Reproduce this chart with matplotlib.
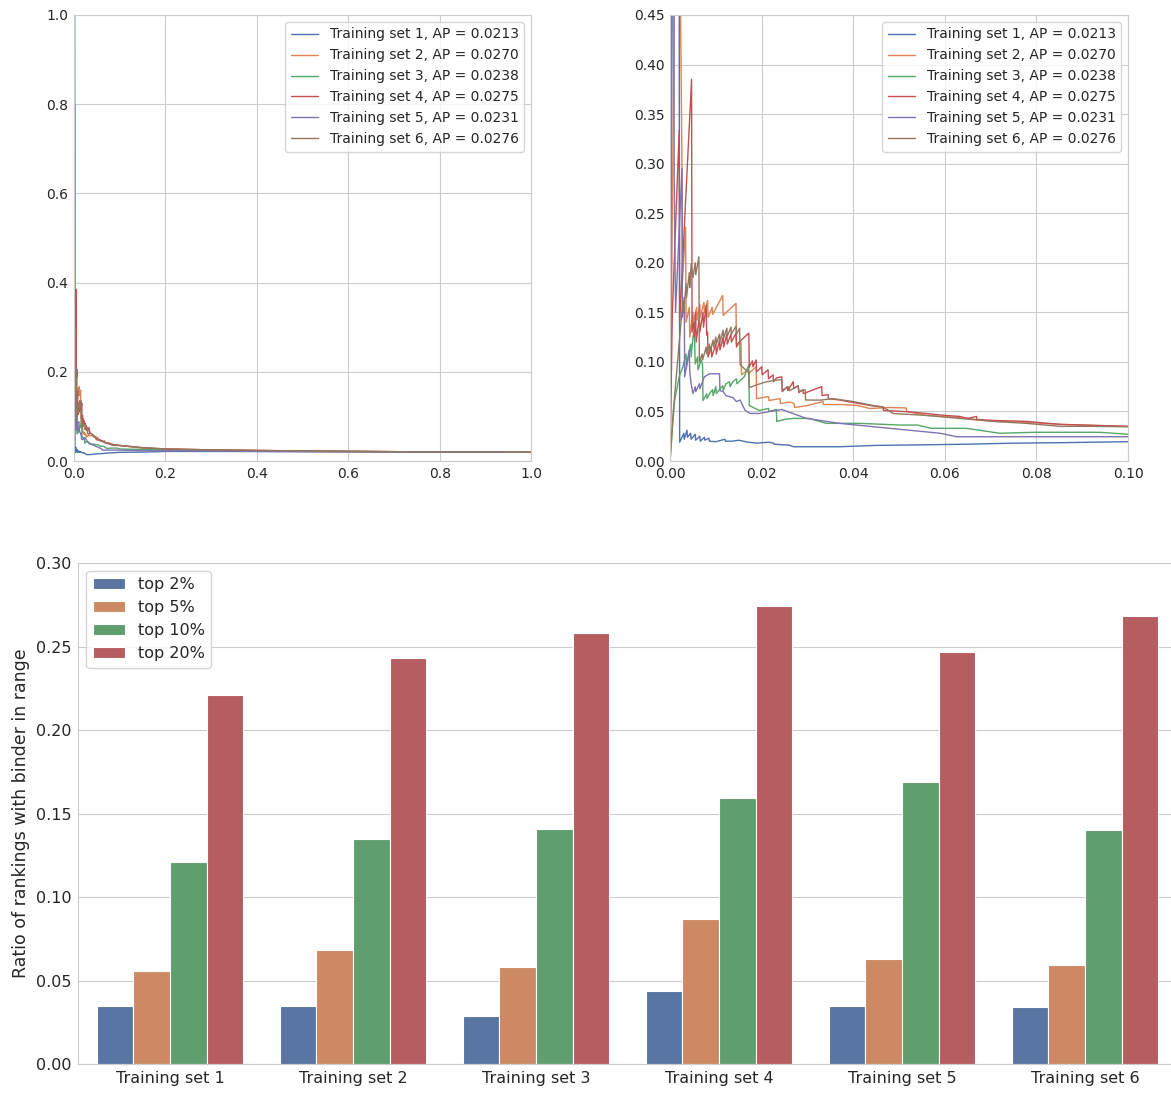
import matplotlib
matplotlib.use("Agg")
import matplotlib.pyplot as plt
import numpy as np
import seaborn as sns

# precision-recall points (recall, precision)
pr_set1 = [(0, 0), (0.0010, 1.0), (0.0020, 0.5), (0.0021, 0.019), (0.0030, 0.028), (0.0031, 0.022),
           (0.0037, 0.031), (0.0038, 0.024), (0.0045, 0.028), (0.0046, 0.022), (0.0055, 0.027),
           (0.0056, 0.021), (0.0065, 0.025), (0.0066, 0.020), (0.0075, 0.024), (0.0076, 0.021),
           (0.0085, 0.023), (0.0086, 0.020), (0.0100, 0.0195), (0.0120, 0.022), (0.0121, 0.020),
           (0.0135, 0.020), (0.0150, 0.021), (0.0170, 0.019), (0.0190, 0.018), (0.0215, 0.019),
           (0.0226, 0.018), (0.0227, 0.017), (0.0260, 0.016), (0.0270, 0.0144), (0.037, 0.0144),
           (0.0444, 0.0157), (0.059, 0.0166), (0.065, 0.017), (0.075, 0.018), (0.085, 0.0185),
           (0.1, 0.0195), (0.15, 0.020), (0.2, 0.0215), (0.3, 0.0215), (0.5, 0.021),
           (0.7, 0.0205), (1.0, 0.0195)]
pr_set2 = [(0, 0), (0.0004, 0.2), (0.0016, 0.8), (0.0026, 0.3), (0.0027, 0.18), (0.0034, 0.236),
           (0.0035, 0.14), (0.0042, 0.155), (0.0043, 0.125), (0.0050, 0.15), (0.0051, 0.14),
           (0.0058, 0.155), (0.0059, 0.142), (0.0065, 0.158), (0.0066, 0.145), (0.0074, 0.16),
           (0.0075, 0.15), (0.0082, 0.162), (0.0083, 0.145), (0.0092, 0.155), (0.0093, 0.148),
           (0.0115, 0.167), (0.0116, 0.147), (0.0144, 0.159), (0.0145, 0.118), (0.0155, 0.12),
           (0.0156, 0.087), (0.0170, 0.092), (0.0171, 0.088), (0.0188, 0.095), (0.0189, 0.063),
           (0.0215, 0.065), (0.0216, 0.061), (0.0240, 0.063), (0.0241, 0.058), (0.0262, 0.0595),
           (0.0271, 0.058), (0.0272, 0.054), (0.0300, 0.056), (0.0334, 0.060), (0.0335, 0.057),
           (0.0376, 0.057), (0.0410, 0.056), (0.0436, 0.053), (0.0480, 0.054), (0.0516, 0.0535),
           (0.0517, 0.050), (0.0560, 0.046), (0.0630, 0.044), (0.0705, 0.040), (0.0778, 0.039),
           (0.0851, 0.037), (0.0924, 0.036), (0.1, 0.035), (0.15, 0.029), (0.2, 0.027),
           (0.3, 0.025), (0.5, 0.0225), (0.7, 0.021), (1.0, 0.0195)]
pr_set3 = [(0, 0), (0.0006, 0.038), (0.0010, 0.061), (0.0020, 0.085), (0.0028, 0.095),
           (0.0035, 0.108), (0.0036, 0.095), (0.0045, 0.118), (0.0046, 0.105), (0.0050, 0.125),
           (0.0053, 0.132), (0.0055, 0.098), (0.0060, 0.105), (0.0061, 0.092), (0.0068, 0.102),
           (0.0071, 0.097), (0.0072, 0.061), (0.0080, 0.068), (0.0081, 0.063), (0.0086, 0.068),
           (0.0093, 0.072), (0.0094, 0.066), (0.0100, 0.075), (0.0101, 0.068), (0.0108, 0.072),
           (0.0115, 0.076), (0.0116, 0.071), (0.0122, 0.078), (0.0130, 0.080), (0.0131, 0.075),
           (0.0137, 0.080), (0.0145, 0.083), (0.0146, 0.078), (0.0162, 0.085), (0.0172, 0.097),
           (0.0173, 0.056), (0.0195, 0.051), (0.0215, 0.053), (0.0216, 0.050), (0.0232, 0.052),
           (0.0233, 0.040), (0.0250, 0.042), (0.0268, 0.043), (0.0304, 0.043), (0.0341, 0.038),
           (0.0414, 0.038), (0.0502, 0.0363), (0.0540, 0.0363), (0.0570, 0.033), (0.0647, 0.033),
           (0.0720, 0.028), (0.0795, 0.029), (0.0937, 0.029), (0.1, 0.027), (0.15, 0.026),
           (0.2, 0.025), (0.3, 0.024), (0.5, 0.022), (0.7, 0.021), (1.0, 0.0195)]
pr_set4 = [(0, 0), (0.0005, 0.15), (0.0020, 0.334), (0.0021, 0.14), (0.0047, 0.385), (0.0048, 0.13),
           (0.0052, 0.14), (0.0053, 0.125), (0.0056, 0.15), (0.0057, 0.12), (0.0064, 0.145),
           (0.0065, 0.13), (0.0072, 0.15), (0.0073, 0.135), (0.0079, 0.157), (0.0080, 0.127),
           (0.0082, 0.13), (0.0083, 0.105), (0.0090, 0.115), (0.0091, 0.105), (0.0100, 0.118),
           (0.0101, 0.108), (0.0108, 0.122), (0.0109, 0.112), (0.0116, 0.125), (0.0117, 0.115),
           (0.0124, 0.128), (0.0125, 0.118), (0.0133, 0.128), (0.0134, 0.120), (0.0144, 0.129),
           (0.0145, 0.115), (0.0151, 0.12), (0.0172, 0.129), (0.0173, 0.095), (0.0180, 0.101),
           (0.0181, 0.095), (0.0188, 0.102), (0.0189, 0.090), (0.0200, 0.095), (0.0201, 0.087),
           (0.0214, 0.092), (0.0215, 0.083), (0.0225, 0.087), (0.0226, 0.080), (0.0233, 0.084),
           (0.0244, 0.085), (0.0245, 0.070), (0.0256, 0.075), (0.0257, 0.071), (0.0269, 0.080),
           (0.0270, 0.073), (0.0280, 0.076), (0.0281, 0.069), (0.0290, 0.072), (0.0291, 0.068),
           (0.0331, 0.075), (0.0332, 0.066), (0.0345, 0.067), (0.0346, 0.063), (0.0370, 0.0615),
           (0.0400, 0.059), (0.0444, 0.0555), (0.0465, 0.0545), (0.0466, 0.051), (0.0517, 0.0498),
           (0.0560, 0.048), (0.0590, 0.0464), (0.0632, 0.045), (0.0650, 0.043), (0.0669, 0.045),
           (0.0670, 0.042), (0.0705, 0.041), (0.0778, 0.040), (0.0851, 0.037), (0.0924, 0.036),
           (0.1, 0.035), (0.15, 0.030), (0.2, 0.027), (0.3, 0.025), (0.5, 0.0225), (0.7, 0.021),
           (1.0, 0.0195)]
pr_set5 = [(0, 0), (0.0007, 1.0), (0.0009, 0.29), (0.0012, 0.15), (0.0026, 0.295), (0.0027, 0.145),
           (0.0031, 0.165), (0.0032, 0.085), (0.0042, 0.112), (0.0043, 0.09), (0.0046, 0.078),
           (0.0050, 0.068), (0.0055, 0.075), (0.0056, 0.070), (0.0064, 0.078), (0.0065, 0.073),
           (0.0075, 0.085), (0.0086, 0.088), (0.0108, 0.088), (0.0109, 0.071), (0.0116, 0.070),
           (0.0122, 0.066), (0.0137, 0.064), (0.0145, 0.060), (0.0153, 0.0615), (0.0164, 0.051),
           (0.0175, 0.048), (0.0195, 0.048), (0.0218, 0.050), (0.0244, 0.052), (0.0298, 0.043),
           (0.0370, 0.038), (0.0444, 0.0346), (0.0517, 0.0313), (0.0590, 0.028), (0.0626, 0.0245),
           (0.0705, 0.0245), (0.0778, 0.0245), (0.1, 0.0245), (0.15, 0.023), (0.2, 0.023),
           (0.3, 0.0225), (0.5, 0.021), (0.7, 0.0205), (1.0, 0.0195)]
pr_set6 = [(0, 0), (0.0007, 0.05), (0.0028, 0.162), (0.0030, 0.15), (0.0035, 0.179), (0.0036, 0.165),
           (0.0042, 0.19), (0.0043, 0.175), (0.0046, 0.199), (0.0050, 0.185), (0.0055, 0.20),
           (0.0056, 0.188), (0.0063, 0.206), (0.0064, 0.100), (0.0070, 0.108), (0.0071, 0.102),
           (0.0079, 0.115), (0.0080, 0.108), (0.0086, 0.118), (0.0087, 0.110), (0.0094, 0.122),
           (0.0095, 0.115), (0.0100, 0.125), (0.0101, 0.118), (0.0108, 0.128), (0.0109, 0.12),
           (0.0116, 0.132), (0.0117, 0.124), (0.0124, 0.134), (0.0125, 0.126), (0.0133, 0.135),
           (0.0134, 0.128), (0.0144, 0.136), (0.0145, 0.128), (0.0152, 0.134), (0.0153, 0.097),
           (0.0165, 0.092), (0.0172, 0.090), (0.0173, 0.074), (0.0190, 0.077), (0.0211, 0.080),
           (0.0233, 0.0817), (0.0244, 0.082), (0.0245, 0.0716), (0.0260, 0.075), (0.0261, 0.071),
           (0.0280, 0.076), (0.0281, 0.070), (0.0295, 0.072), (0.0296, 0.0615), (0.0330, 0.0615),
           (0.0355, 0.063), (0.0400, 0.060), (0.0444, 0.056), (0.0465, 0.0545), (0.0487, 0.048),
           (0.0560, 0.046), (0.0632, 0.043), (0.0705, 0.040), (0.0778, 0.038), (0.0851, 0.035),
           (0.0924, 0.035), (0.1, 0.0345), (0.15, 0.030), (0.2, 0.027), (0.3, 0.025),
           (0.5, 0.0225), (0.7, 0.021), (1.0, 0.0195)]

pr_curves = [pr_set1, pr_set2, pr_set3, pr_set4, pr_set5, pr_set6]
ap_values = [0.0213, 0.0270, 0.0238, 0.0275, 0.0231, 0.0276]

# bar chart
training_sets = ["Training set 1", "Training set 2", "Training set 3",
                 "Training set 4", "Training set 5", "Training set 6"]
range_labels = ["top 2%", "top 5%", "top 10%", "top 20%"]
top2 = [0.035, 0.035, 0.029, 0.044, 0.035, 0.034]
top5 = [0.056, 0.068, 0.058, 0.087, 0.063, 0.059]
top10 = [0.121, 0.135, 0.141, 0.159, 0.169, 0.140]
top20 = [0.221, 0.243, 0.258, 0.274, 0.247, 0.268]

sns.set_style("whitegrid")
plt.rcParams["font.family"] = ["DejaVu Sans"]

line_colors = sns.color_palette("deep", 6)
bar_colors = sns.color_palette("deep", 4, desat=0.75)

fig = plt.figure(figsize=(11.71, 10.93), dpi=100)
ax_full = fig.add_axes([0.0632, 0.5782, 0.3903, 0.4081])
ax_zoom = fig.add_axes([0.5722, 0.5782, 0.3911, 0.4081])
ax_bar = fig.add_axes([0.0670, 0.0265, 0.9377, 0.4584])

for ax in (ax_full, ax_zoom):
    for i, pts in enumerate(pr_curves):
        r = [p[0] for p in pts]
        p = [p[1] for p in pts]
        ax.plot(r, p, color=line_colors[i], lw=1.0,
                label=f"Training set {i + 1}, AP = {ap_values[i]:.4f}")
    ax.tick_params(labelsize=10, length=0, pad=4)
    ax.legend(loc="upper right", fontsize=10, frameon=True, handlelength=2.0)
    for s in ax.spines.values():
        s.set_color("#cccccc")

ax_full.set_xlim(0, 1)
ax_full.set_ylim(0, 1)
ax_full.set_xticks(np.arange(0, 1.01, 0.2))
ax_full.set_yticks(np.arange(0, 1.01, 0.2))
ax_full.xaxis.set_major_formatter(plt.FormatStrFormatter("%.1f"))
ax_full.yaxis.set_major_formatter(plt.FormatStrFormatter("%.1f"))

ax_zoom.set_xlim(0, 0.1)
ax_zoom.set_ylim(0, 0.45)
ax_zoom.set_xticks(np.arange(0, 0.101, 0.02))
ax_zoom.set_yticks(np.arange(0, 0.451, 0.05))
ax_zoom.xaxis.set_major_formatter(plt.FormatStrFormatter("%.2f"))
ax_zoom.yaxis.set_major_formatter(plt.FormatStrFormatter("%.2f"))

x = np.arange(len(training_sets))
w = 0.2
for j, vals in enumerate([top2, top5, top10, top20]):
    ax_bar.bar(x + (j - 1.5) * w, vals, width=w, color=bar_colors[j],
               edgecolor="white", linewidth=0.8, label=range_labels[j], zorder=2)
ax_bar.set_xlim(-0.5, 5.5)
ax_bar.set_ylim(0, 0.30)
ax_bar.set_yticks(np.arange(0, 0.301, 0.05))
ax_bar.yaxis.set_major_formatter(plt.FormatStrFormatter("%.2f"))
ax_bar.set_xticks(x)
ax_bar.set_xticklabels(training_sets)
ax_bar.grid(axis="x", visible=False)
ax_bar.tick_params(labelsize=11.5, length=0, pad=5)
ax_bar.set_ylabel("Ratio of rankings with binder in range", fontsize=12.5)
ax_bar.legend(loc="upper left", fontsize=11.5, frameon=True)
for side in ("top", "right"):
    ax_bar.spines[side].set_visible(False)
for side in ("left", "bottom"):
    ax_bar.spines[side].set_color("#cccccc")

fig.savefig("out.png", dpi=100)
